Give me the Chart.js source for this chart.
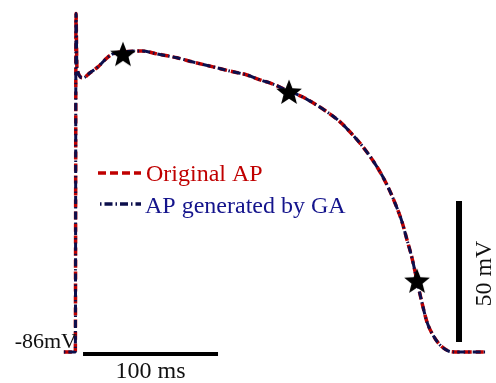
<!DOCTYPE html>
<html>
<head>
<meta charset="utf-8">
<script src="https://cdn.jsdelivr.net/npm/chart.js@4/dist/chart.umd.min.js"></script>
<style>
html,body{margin:0;padding:0;background:#fff;}
#wrap{width:496px;height:383px;position:relative;}
</style>
</head>
<body>
<div id="wrap"><canvas id="c"></canvas></div>
<script>
// ---- data ----
const timeMs = [-9, -0.5, 0, 0.7, 5.2, 10.4, 16.3, 23, 27.4, 34.8, 48.9, 60, 74.8, 86.7, 101.5, 114, 126.7, 136.3, 145.9, 157, 168, 186, 195.6, 203, 212.6, 223, 230.4, 236.3, 241.5, 245.2, 248.9, 252.6, 256.3, 260, 264.4, 269.6, 275.6, 280.7, 303];
const originalAP = [-86, -86, 34, 14.7, 11.2, 13.0, 15.1, 18.3, 19.7, 20.4, 20.7, 19.7, 18.3, 16.8, 15.1, 13.6, 12.2, 10.5, 9.0, 6.6, 4.4, -0.9, -4.4, -8.0, -13.3, -20.4, -26.8, -33.2, -39.9, -46.3, -52.7, -60.8, -68.6, -75.4, -80.0, -83.5, -85.6, -86, -86];
const gaAP = [-86, -86, 34, 14.7, 11.2, 13.0, 15.1, 18.3, 19.7, 20.4, 20.7, 19.7, 18.3, 16.8, 15.1, 13.6, 12.2, 10.5, 9.0, 6.6, 4.4, -0.9, -4.4, -8.0, -13.3, -20.4, -26.8, -33.2, -39.9, -46.3, -52.7, -60.8, -68.6, -75.4, -80.0, -83.5, -85.6, -86, -86];
const starTimes = [34.8, 157.8, 252.6];
const starVolts = [19.6, 6.2, -60.8];
const timeBarMs = [5.2, 105.2];   // 100 ms scale bar
const timeBarMv = -86.7;
const voltBarMs = 283.7;
const voltBarMv = [-32.5, -82.5]; // 50 mV scale bar
const restLabel = '-86mV';
const timeBarLabel = '100 ms';
const voltBarLabel = '50 mV';
const seriesNames = ['Original AP', 'AP generated by GA'];

const RED = '#c00000';
const NAVY = '#0c0f4c';
const BLUE_TXT = '#14148c';
const SERIF = '"Liberation Serif","Times New Roman",serif';

function pts(xs, ys){ return xs.map((x,i)=>({x:x, y:ys[i]})); }

// filled five-pointed star point style
const starImg = document.createElement('canvas');
starImg.width = 28; starImg.height = 28;
(function(){
  const g = starImg.getContext('2d');
  g.fillStyle = '#000';
  g.beginPath();
  for (let i=0;i<10;i++){
    const r = i%2===0 ? 13.5 : 5.8;
    const a = -Math.PI/2 + i*Math.PI/5;
    const x = 14 + r*Math.cos(a), y = 15 + r*Math.sin(a);
    i===0 ? g.moveTo(x,y) : g.lineTo(x,y);
  }
  g.closePath(); g.fill();
})();

const annot = {
  id: 'annot',
  afterDatasetsDraw(chart){
    const ctx = chart.ctx, xs = chart.scales.x, ys = chart.scales.y;
    ctx.save();
    // -86mV label
    ctx.font = '22px ' + SERIF;
    ctx.fillStyle = '#111';
    ctx.textAlign = 'right'; ctx.textBaseline = 'alphabetic';
    ctx.fillText(restLabel, xs.getPixelForValue(0)+1, ys.getPixelForValue(-86)-4);
    // 100 ms label
    ctx.font = '24px ' + SERIF;
    ctx.textAlign = 'center';
    ctx.fillText(timeBarLabel, xs.getPixelForValue((timeBarMs[0]+timeBarMs[1])/2), ys.getPixelForValue(timeBarMv)+24);
    // 50 mV label (rotated)
    ctx.save();
    ctx.translate(xs.getPixelForValue(voltBarMs)+32, ys.getPixelForValue((voltBarMv[0]+voltBarMv[1])/2)+2);
    ctx.rotate(-Math.PI/2);
    ctx.textAlign = 'center'; ctx.textBaseline = 'alphabetic';
    ctx.fillText(voltBarLabel, 0, 0);
    ctx.restore();
    // legend
    ctx.lineWidth = 3.5;
    ctx.strokeStyle = RED; ctx.setLineDash([8,4]);
    ctx.beginPath(); ctx.moveTo(98,173); ctx.lineTo(141,173); ctx.stroke();
    ctx.strokeStyle = NAVY; ctx.setLineDash([1.5,3,8,3]);
    ctx.beginPath(); ctx.moveTo(100,204); ctx.lineTo(141,204); ctx.stroke();
    ctx.setLineDash([]);
    ctx.textAlign = 'left';
    ctx.font = '24px ' + SERIF;
    ctx.fillStyle = RED;
    ctx.fillText(seriesNames[0], 146, 181);
    ctx.fillStyle = BLUE_TXT;
    ctx.fillText(seriesNames[1], 145, 213);
    ctx.restore();
  }
};

new Chart(document.getElementById('c'), {
  type: 'line',
  data: {
    datasets: [
      { label: 'stars', type: 'scatter', data: pts(starTimes, starVolts), pointStyle: starImg, pointRadius: 14, order: 0, showLine: false },
      { label: seriesNames[1], data: pts(timeMs, gaAP), borderColor: NAVY, borderWidth: 3, borderDash: [1.5,3,8,3], pointRadius: 0, cubicInterpolationMode: 'monotone', fill: false, order: 1 },
      { label: seriesNames[0], data: pts(timeMs, originalAP), borderColor: RED, borderWidth: 3.5, borderDash: [8,4], pointRadius: 0, cubicInterpolationMode: 'monotone', fill: false, order: 2 },
      { label: 'time bar', data: [{x:timeBarMs[0], y:timeBarMv},{x:timeBarMs[1], y:timeBarMv}], borderColor: '#000', borderWidth: 4, pointRadius: 0, borderCapStyle: 'butt', order: 3 },
      { label: 'volt bar', data: [{x:voltBarMs, y:voltBarMv[0]},{x:voltBarMs, y:voltBarMv[1]}], borderColor: '#000', borderWidth: 6, pointRadius: 0, borderCapStyle: 'butt', order: 3 }
    ]
  },
  options: {
    responsive: true, maintainAspectRatio: false, animation: false,
    layout: { padding: 0, autoPadding: false },
    scales: {
      x: { type: 'linear', display: false, min: -56.3, max: 311.1 },
      y: { type: 'linear', display: false, min: -97.0, max: 38.8 }
    },
    plugins: { legend: { display: false }, tooltip: { enabled: false } }
  },
  plugins: [annot]
});
</script>
</body>
</html>
